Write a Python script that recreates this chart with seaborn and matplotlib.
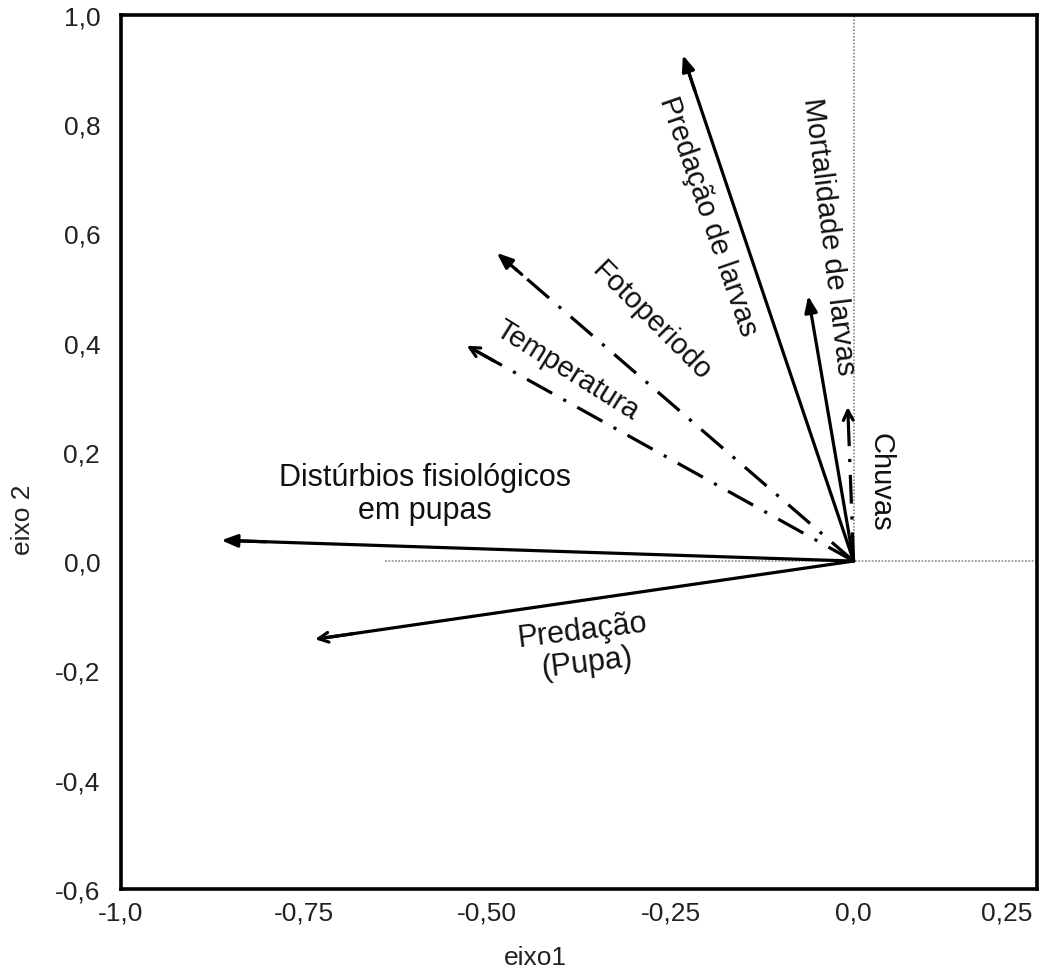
import numpy as np
import pandas as pd
import matplotlib
matplotlib.use("Agg")
import matplotlib.pyplot as plt
import matplotlib.transforms as mtransforms
import seaborn as sns

# ---- data ----
variables = ["Predação de larvas", "Mortalidade de larvas", "Chuvas", "Fotoperiodo",
             "Temperatura", "Distúrbios fisiológicos em pupas", "Predação (Pupa)"]
eixo1 = [-0.233, -0.062, -0.008, -0.487, -0.528, -0.863, -0.735]
eixo2 = [0.926, 0.485, 0.282, 0.564, 0.394, 0.038, -0.143]
line_kind = ["solid", "solid", "dashdot", "dashdot", "dashdot", "solid", "solid"]
head_kind = ["filled", "filled", "open", "filled", "open", "filled", "open"]

xticks = [-1.0, -0.75, -0.50, -0.25, 0.0, 0.25]
xticklabels = ["-1,0", "-0,75", "-0,50", "-0,25", "0,0", "0,25"]
yticks = [-0.6, -0.4, -0.2, 0.0, 0.2, 0.4, 0.6, 0.8, 1.0]
yticklabels = ["-0,6", "-0,4", "-0,2", "0,0", "0,2", "0,4", "0,6", "0,8", "1,0"]

sns.set_style("white")
plt.rcParams["font.family"] = ["Liberation Sans", "DejaVu Sans"]

fig = plt.figure(figsize=(10.43, 9.79), dpi=100)
ax = fig.add_axes([0.116, 0.091, 0.878, 0.893])

# reference dotted lines
ax.plot([0, 0], [0, 1.0], color="#888888", lw=1.2, ls=(0, (1, 1)), zorder=1)
ax.plot([-0.64, 0.25], [0, 0], color="#888888", lw=1.2, ls=(0, (1, 1)), zorder=1)

# shafts via seaborn
rows = []
for v, x, y, k in zip(variables, eixo1, eixo2, line_kind):
    rows.append({"var": v, "x": 0.0, "y": 0.0, "kind": k})
    rows.append({"var": v, "x": x * 0.985, "y": y * 0.985, "kind": k})
df = pd.DataFrame(rows)
for v in variables:
    sub = df[df["var"] == v]
    ls = "-" if sub["kind"].iloc[0] == "solid" else (0, (9, 4, 1, 4))
    sns.lineplot(data=sub, x="x", y="y", sort=False, estimator=None, ax=ax,
                 color="black", lw=2.3, linestyle=ls, legend=False, zorder=3)

# arrow heads
for x, y, h in zip(eixo1, eixo2, head_kind):
    start = (x * 0.93, y * 0.93)
    if h == "filled":
        props = dict(arrowstyle="-|>,head_length=0.95,head_width=0.38", color="black",
                     lw=2.3, shrinkA=0, shrinkB=0)
    else:
        props = dict(arrowstyle="->,head_length=0.7,head_width=0.35", color="black",
                     lw=2.3, shrinkA=0, shrinkB=0)
    ax.annotate("", xy=(x, y), xytext=start, arrowprops=props, zorder=4)

# labels
fs = 21
tc = "#111111"
kw = dict(ha="center", va="center", color=tc, rotation_mode="anchor")
ax.text(-0.198, 0.632, "Predação de larvas", rotation=-71, fontsize=fs, **kw)
ax.text(-0.034, 0.595, "Mortalidade de larvas", rotation=-83, fontsize=fs, **kw)
ax.text(0.037, 0.146, "Chuvas", rotation=-90, fontsize=fs, **kw)
ax.text(-0.275, 0.440, "Fotoperiodo", rotation=-45, fontsize=fs, **kw)
ax.text(-0.391, 0.350, "Temperatura", rotation=-32, fontsize=fs, **kw)
ax.text(-0.585, 0.124, "Distúrbios fisiológicos\nem pupas", rotation=0,
        fontsize=22, linespacing=1.15, **kw)
ax.text(-0.367, -0.156, "Predação\n(Pupa)", rotation=7, fontsize=22,
        linespacing=1.15, **kw)

ax.set_xlim(-1.0, 0.25)
ax.set_ylim(-0.6, 1.0)
ax.set_xticks(xticks)
ax.set_xticklabels(xticklabels)
ax.set_yticks(yticks)
ax.set_yticklabels(yticklabels)
ax.tick_params(axis="both", direction="out", length=5, width=1.5, labelsize=19,
               colors="black", labelcolor="#222222")
ax.tick_params(axis="x", pad=3)
ax.tick_params(axis="y", pad=10)
last = ax.get_xticklabels()[-1]
last.set_ha("right")
last.set_transform(last.get_transform() +
                   mtransforms.ScaledTranslation(-4 / 100, 0, fig.dpi_scale_trans))
for s in ax.spines.values():
    s.set_visible(True)
    s.set_color("black")
    s.set_linewidth(2.6)
ax.set_xlabel("eixo1", fontsize=19, color="#222222")
ax.set_ylabel("eixo 2", fontsize=19, color="#222222")
ax.xaxis.set_label_coords(0.452, -0.064)
ax.yaxis.set_label_coords(-0.094, 0.423)

fig.savefig("out.png", dpi=100)
